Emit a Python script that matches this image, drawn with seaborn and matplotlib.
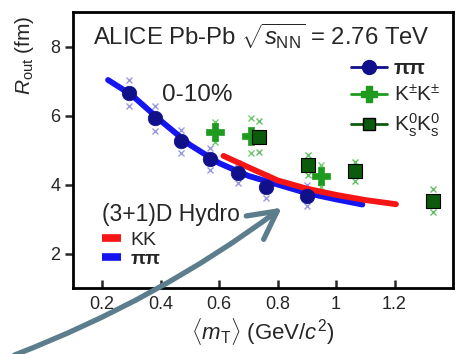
import matplotlib
matplotlib.use("Agg")
import matplotlib.pyplot as plt
from matplotlib.lines import Line2D
from matplotlib.patches import FancyArrowPatch
import seaborn as sns
import pandas as pd

# Femtoscopic R_out radii vs <m_T>, ALICE Pb-Pb 0-10%
pi_mt = [0.29, 0.38, 0.47, 0.57, 0.665, 0.76, 0.90]
pi_r = [6.65, 5.92, 5.25, 4.73, 4.33, 3.94, 3.68]
pi_sys = [0.38, 0.36, 0.33, 0.32, 0.30, 0.32, 0.30]

kch_mt = [0.585, 0.71, 0.95]
kch_r = [5.52, 5.42, 4.25]
kch_sys = [0.28, 0.50, 0.32]

k0_mt = [0.735, 0.905, 1.065, 1.33]
k0_r = [5.38, 4.57, 4.38, 3.53]
k0_sys = [0.45, 0.30, 0.28, 0.33]

# (3+1)D hydrodynamics predictions
hydro_pi_mt = [0.22, 0.30, 0.40, 0.50, 0.60, 0.70, 0.80, 0.90, 1.00, 1.09]
hydro_pi_r = [7.03, 6.60, 5.85, 5.15, 4.62, 4.25, 4.00, 3.75, 3.57, 3.42]
hydro_kk_mt = [0.615, 0.70, 0.80, 0.90, 1.00, 1.10, 1.205]
hydro_kk_r = [4.83, 4.50, 4.12, 3.88, 3.70, 3.55, 3.43]

x_ticks = [0.2, 0.4, 0.6, 0.8, 1.0, 1.2]
x_ticklabels = ["0.2", "0.4", "0.6", "0.8", "1", "1.2"]
y_ticks = [2, 4, 6, 8]

sns.set_theme(style="ticks")
plt.rcParams["font.family"] = ["Liberation Sans", "DejaVu Sans"]
plt.rcParams["mathtext.fontset"] = "custom"
plt.rcParams["mathtext.rm"] = "Liberation Sans"
plt.rcParams["mathtext.it"] = "Liberation Sans:italic"

NAVY = "#10108a"
KGREEN = "#1e9a1e"
K0GREEN = "#0c5a0c"
HBLUE = "#1515f0"
HRED = "#f51515"

fig = plt.figure(figsize=(4.55, 3.54), dpi=100)
ax = fig.add_axes([0.1604, 0.1864, 0.8352, 0.7796])

hydro = pd.concat([
    pd.DataFrame({"mt": hydro_pi_mt, "r": hydro_pi_r, "model": "pipi"}),
    pd.DataFrame({"mt": hydro_kk_mt, "r": hydro_kk_r, "model": "KK"}),
])
sns.lineplot(data=hydro, x="mt", y="r", hue="model", sort=False,
             palette={"pipi": HBLUE, "KK": HRED}, linewidth=4.2,
             legend=False, ax=ax, zorder=2)

# systematic uncertainty markers above and below each point
def sys_marks(xs, ys, es, color):
    for x, y, e in zip(xs, ys, es):
        ax.plot([x, x], [y + e, y - e], linestyle="none", marker="x",
                ms=4, mew=1.0, color=color, alpha=0.8, zorder=1)

sys_marks(pi_mt, pi_r, pi_sys, "#8080d8")
sys_marks(kch_mt, kch_r, kch_sys, "#50c050")
sys_marks(k0_mt, k0_r, k0_sys, "#40b040")

sns.scatterplot(x=pi_mt, y=pi_r, marker="o", s=110, color=NAVY,
                edgecolor=NAVY, linewidth=0.5, ax=ax, zorder=4)
sns.scatterplot(x=kch_mt, y=kch_r, marker="P", s=150, color=KGREEN,
                edgecolor=KGREEN, linewidth=0.5, ax=ax, zorder=4)
sns.scatterplot(x=k0_mt, y=k0_r, marker="s", s=110, color=K0GREEN,
                edgecolor="black", linewidth=0.8, ax=ax, zorder=5)

ax.set_xlim(0.1, 1.4)
ax.set_ylim(1, 9)
ax.set_xticks(x_ticks)
ax.set_xticklabels(x_ticklabels)
ax.set_yticks(y_ticks)
ax.tick_params(axis="x", direction="in", length=6, width=1.8, labelsize=13, pad=6)
ax.tick_params(axis="y", direction="out", length=6, width=1.8, labelsize=13, pad=3)
for sp in ax.spines.values():
    sp.set_linewidth(2.0)
    sp.set_color("black")
    sp.set_visible(True)

ax.set_xlabel(r"$\langle m_{\rm T}\rangle$ (GeV/$c^2$)", fontsize=16, labelpad=2)
ax.set_ylabel(r"$R_{\rm out}$ (fm)", fontsize=15)
ax.yaxis.set_label_coords(-0.097, 0.845)

ax.text(0.052, 0.913, r"ALICE Pb-Pb $\sqrt{s_{\rm NN}}$ = 2.76 TeV",
        transform=ax.transAxes, fontsize=17.2, va="center", ha="left")
ax.text(0.235, 0.70, "0-10%", transform=ax.transAxes, fontsize=17.5,
        va="center", ha="left")

data_handles = [
    Line2D([0], [0], color=NAVY, lw=2, marker="o", ms=10, mfc=NAVY, mec=NAVY),
    Line2D([0], [0], color=KGREEN, lw=2, marker="P", ms=11, mfc=KGREEN, mec=KGREEN),
    Line2D([0], [0], color=K0GREEN, lw=2, marker="s", ms=9, mfc=K0GREEN, mec="black"),
]
leg1 = ax.legend(data_handles, ["ππ", r"K$^{\pm}$K$^{\pm}$", r"K$^0_{\rm s}$K$^0_{\rm s}$"],
                 loc="upper right", bbox_to_anchor=(1.0, 0.875), frameon=False,
                 fontsize=15, handlelength=1.7, handletextpad=0.35,
                 labelspacing=0.3, borderaxespad=0.2)
for t in leg1.get_texts()[:1]:
    t.set_fontweight("bold")
ax.add_artist(leg1)

hydro_handles = [
    Line2D([0], [0], color=HRED, lw=5.5, solid_capstyle="butt"),
    Line2D([0], [0], color=HBLUE, lw=5.5, solid_capstyle="butt"),
]
leg2 = ax.legend(hydro_handles, ["KK", "ππ"], title="(3+1)D Hydro",
                 loc="upper left", bbox_to_anchor=(0.05, 0.345), frameon=False,
                 fontsize=14, title_fontsize=16.5, handlelength=1.0,
                 handletextpad=0.5, labelspacing=0.1, borderaxespad=0.1,
                 alignment="left")
leg2._legend_box.sep = 4
leg2.get_texts()[1].set_fontweight("bold")

# annotation arrow pointing at the hydro curves
arrow = FancyArrowPatch((12 / 455, 1 - 356 / 354), (284 / 455, 1 - 206 / 354),
                        transform=fig.transFigure,
                        connectionstyle="arc3,rad=0.07",
                        arrowstyle="->,head_length=20,head_width=10.5",
                        color="#5b7d8c", lw=3.8, mutation_scale=1,
                        capstyle="round", joinstyle="round", zorder=10)
fig.add_artist(arrow)

fig.savefig("out.png", dpi=100)
